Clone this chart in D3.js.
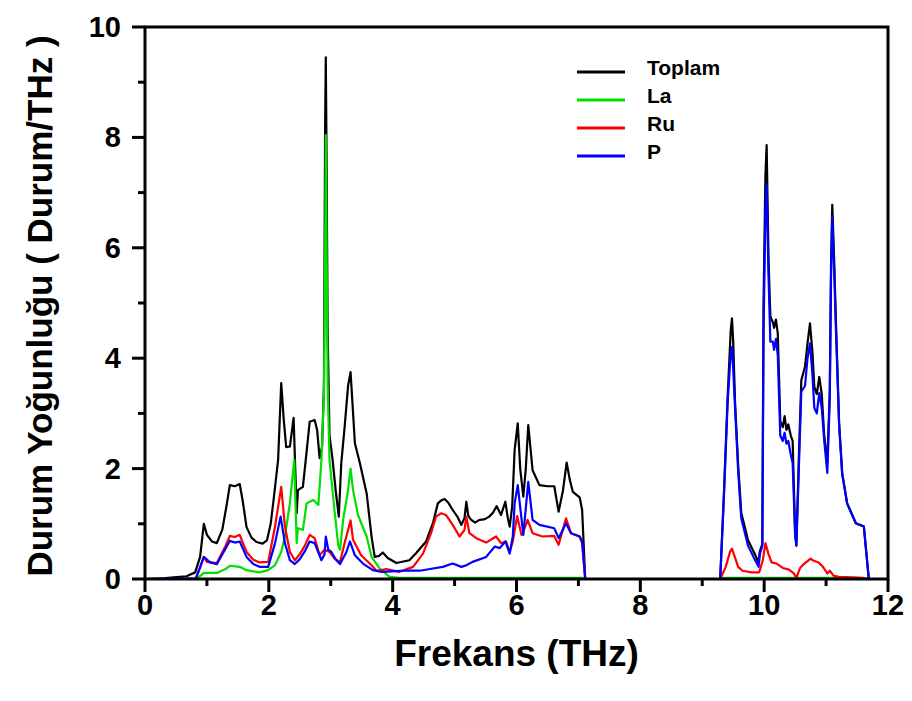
<!DOCTYPE html>
<html>
<head>
<meta charset="utf-8">
<script src="https://cdn.jsdelivr.net/npm/d3@7"></script>
<style>
  body { margin: 0; background: #fff; }
  svg { display: block; font-family: "Liberation Sans", Arial, sans-serif; }
</style>
</head>
<body>
<svg id="chart" width="912" height="701"></svg>
<script>
// frequency (THz), density of states (states/THz)
const toplam = [
  [0, 0], [0.3, 0.01], [0.46, 0.03], [0.67, 0.05], [0.81, 0.12], [0.89, 0.4], [0.95, 1.0], [1.0, 0.8],
  [1.08, 0.68], [1.16, 0.65], [1.25, 0.9], [1.32, 1.35], [1.37, 1.7], [1.45, 1.68], [1.53, 1.72],
  [1.58, 1.4], [1.64, 0.94], [1.72, 0.75], [1.8, 0.67], [1.9, 0.64], [1.97, 0.7], [2.03, 1.0],
  [2.07, 1.37], [2.15, 2.16], [2.2, 3.55], [2.24, 2.9], [2.28, 2.39], [2.34, 2.4], [2.4, 2.92],
  [2.45, 1.19], [2.47, 1.61], [2.55, 1.67], [2.6, 2.2], [2.66, 2.85], [2.74, 2.88], [2.78, 2.7],
  [2.82, 2.19], [2.86, 2.4], [2.89, 3.5], [2.91, 8.3], [2.92, 9.45], [2.93, 8.0], [2.95, 4.5],
  [2.98, 2.6], [3.03, 2.16], [3.08, 1.6], [3.13, 1.13], [3.17, 2.1], [3.22, 2.7], [3.28, 3.5],
  [3.32, 3.75], [3.35, 3.2], [3.39, 2.46], [3.47, 2.1], [3.58, 1.55], [3.66, 0.76], [3.71, 0.4],
  [3.78, 0.42], [3.84, 0.48], [3.92, 0.38], [4.06, 0.29], [4.27, 0.34], [4.38, 0.47], [4.54, 0.68],
  [4.65, 1.01], [4.73, 1.37], [4.78, 1.42], [4.84, 1.45], [4.9, 1.38], [4.97, 1.25], [5.05, 1.12],
  [5.11, 0.98], [5.16, 1.1], [5.19, 1.4], [5.22, 1.15], [5.26, 1.08], [5.33, 1.02], [5.4, 1.07],
  [5.48, 1.08], [5.56, 1.13], [5.62, 1.2], [5.68, 1.32], [5.75, 1.16], [5.82, 1.4], [5.86, 1.1],
  [5.89, 0.95], [5.93, 1.31], [5.97, 2.34], [6.02, 2.82], [6.06, 2.0], [6.11, 1.49], [6.15, 2.0],
  [6.19, 2.79], [6.26, 1.97], [6.37, 1.7], [6.5, 1.68], [6.61, 1.68], [6.68, 1.22], [6.75, 1.6],
  [6.81, 2.11], [6.86, 1.8], [6.91, 1.58], [7.02, 1.48], [7.06, 1.25], [7.11, 0], [9.29, 0],
  [9.35, 1.55], [9.41, 3.3], [9.46, 4.5], [9.48, 4.72], [9.5, 4.3], [9.53, 3.2], [9.58, 2.07],
  [9.63, 1.2], [9.74, 0.7], [9.85, 0.45], [9.91, 0.3], [9.93, 0.5], [9.97, 0.63], [9.99, 5.0],
  [10.02, 7.3], [10.04, 7.86], [10.07, 5.8], [10.1, 4.76], [10.14, 4.65], [10.16, 4.55], [10.19, 4.7],
  [10.22, 4.45], [10.26, 2.86], [10.3, 2.75], [10.33, 2.95], [10.36, 2.7], [10.39, 2.8], [10.43, 2.6],
  [10.46, 2.5], [10.5, 0.85], [10.52, 0.62], [10.56, 2.2], [10.6, 3.6], [10.66, 3.85], [10.7, 4.27],
  [10.74, 4.63], [10.78, 4.1], [10.81, 3.48], [10.85, 3.35], [10.89, 3.66], [10.93, 3.35], [10.97, 2.6],
  [11.02, 2.1], [11.06, 3.42], [11.08, 5.7], [11.1, 6.78], [11.13, 5.8], [11.16, 4.63], [11.21, 2.83],
  [11.26, 1.92], [11.34, 1.37], [11.48, 1.01], [11.61, 0.95], [11.69, 0], [12, 0]
];

const la = [
  [0, 0], [0.82, 0], [0.9, 0.06], [0.95, 0.11], [1.05, 0.11], [1.16, 0.11], [1.3, 0.18], [1.37, 0.24],
  [1.53, 0.22], [1.64, 0.16], [1.85, 0.12], [1.99, 0.16], [2.1, 0.25], [2.2, 0.49], [2.26, 0.77],
  [2.34, 1.37], [2.41, 2.16], [2.45, 0.65], [2.47, 0.92], [2.55, 0.89], [2.61, 1.37], [2.72, 1.43],
  [2.8, 1.34], [2.85, 2.16], [2.89, 3.37], [2.91, 6.0], [2.92, 8.04], [2.93, 6.5], [2.95, 3.5],
  [2.98, 2.16], [3.06, 1.25], [3.12, 0.62], [3.15, 0.53], [3.2, 1.07], [3.28, 1.61], [3.32, 2.0],
  [3.36, 1.61], [3.44, 1.16], [3.58, 0.77], [3.66, 0.4], [3.79, 0.19], [3.95, 0.04], [4.1, 0.02],
  [7.08, 0.02], [7.11, 0], [9.29, 0], [9.32, 0.02], [11.5, 0.02], [11.6, 0], [12, 0]
];

const ru = [
  [0, 0], [0.82, 0], [0.89, 0.2], [0.95, 0.4], [1.0, 0.31], [1.16, 0.29], [1.3, 0.6], [1.37, 0.78],
  [1.45, 0.76], [1.53, 0.8], [1.64, 0.49], [1.75, 0.35], [1.85, 0.3], [1.99, 0.31], [2.1, 0.95],
  [2.2, 1.67], [2.26, 0.95], [2.34, 0.49], [2.42, 0.34], [2.5, 0.45], [2.58, 0.6], [2.66, 0.8],
  [2.74, 0.74], [2.82, 0.43], [2.9, 0.53], [2.98, 0.49], [3.06, 0.37], [3.15, 0.31], [3.23, 0.68],
  [3.32, 1.06], [3.36, 0.71], [3.49, 0.43], [3.63, 0.28], [3.74, 0.15], [3.9, 0.18], [4.11, 0.13],
  [4.33, 0.22], [4.49, 0.46], [4.62, 0.83], [4.7, 1.13], [4.78, 1.19], [4.86, 1.16], [4.97, 0.98],
  [5.08, 0.77], [5.16, 0.89], [5.19, 1.13], [5.24, 0.83], [5.35, 0.74], [5.51, 0.66], [5.67, 0.77],
  [5.75, 0.65], [5.83, 0.68], [5.89, 0.49], [5.94, 0.68], [6.01, 1.14], [6.08, 0.8], [6.11, 0.86],
  [6.18, 1.07], [6.26, 0.83], [6.42, 0.77], [6.61, 0.78], [6.68, 0.62], [6.8, 1.1], [6.88, 0.83],
  [7.02, 0.77], [7.06, 0.65], [7.11, 0], [9.29, 0], [9.38, 0.22], [9.45, 0.5], [9.48, 0.55],
  [9.52, 0.42], [9.58, 0.22], [9.65, 0.15], [9.8, 0.12], [9.92, 0.12], [9.98, 0.35], [10.02, 0.65],
  [10.07, 0.45], [10.12, 0.3], [10.2, 0.28], [10.3, 0.2], [10.4, 0.17], [10.48, 0.1], [10.52, 0.02],
  [10.58, 0.2], [10.65, 0.28], [10.75, 0.37], [10.8, 0.33], [10.88, 0.3], [10.95, 0.22], [11.02, 0.1],
  [11.06, 0.15], [11.12, 0.06], [11.2, 0.04], [11.4, 0.03], [11.6, 0.02], [11.69, 0], [12, 0]
];

const p = [
  [0, 0], [0.82, 0.01], [0.89, 0.22], [0.95, 0.4], [1.05, 0.3], [1.16, 0.27], [1.3, 0.55], [1.37, 0.69],
  [1.45, 0.66], [1.53, 0.68], [1.64, 0.4], [1.75, 0.27], [1.85, 0.22], [1.99, 0.22], [2.1, 0.65],
  [2.19, 1.13], [2.26, 0.65], [2.34, 0.34], [2.42, 0.27], [2.5, 0.36], [2.58, 0.5], [2.66, 0.68],
  [2.74, 0.65], [2.85, 0.34], [2.9, 0.45], [2.92, 0.77], [2.96, 0.53], [3.01, 0.49], [3.09, 0.34],
  [3.15, 0.27], [3.25, 0.48], [3.31, 0.68], [3.39, 0.43], [3.52, 0.28], [3.68, 0.16], [3.82, 0.13],
  [4.22, 0.15], [4.44, 0.15], [4.65, 0.19], [4.81, 0.22], [4.97, 0.28], [5.11, 0.22], [5.19, 0.25],
  [5.29, 0.31], [5.51, 0.4], [5.65, 0.59], [5.73, 0.56], [5.82, 0.68], [5.89, 0.46], [5.94, 0.77],
  [5.97, 1.37], [6.02, 1.7], [6.11, 0.8], [6.19, 1.76], [6.26, 1.07], [6.37, 0.98], [6.61, 0.92],
  [6.68, 0.74], [6.8, 1.01], [6.88, 0.83], [7.02, 0.77], [7.06, 0.68], [7.11, 0], [9.29, 0],
  [9.35, 1.5], [9.41, 3.2], [9.46, 4.1], [9.48, 4.2], [9.5, 3.8], [9.53, 3.1], [9.58, 1.95],
  [9.63, 1.1], [9.74, 0.6], [9.85, 0.35], [9.91, 0.22], [9.93, 0.45], [9.97, 0.6], [9.99, 4.5],
  [10.02, 6.6], [10.04, 7.15], [10.07, 5.5], [10.1, 4.3], [10.14, 4.3], [10.16, 4.15], [10.19, 4.35],
  [10.22, 4.05], [10.26, 2.6], [10.3, 2.5], [10.33, 2.65], [10.36, 2.45], [10.39, 2.5], [10.43, 2.25],
  [10.46, 2.1], [10.5, 0.8], [10.52, 0.6], [10.56, 2.0], [10.6, 3.4], [10.66, 3.5], [10.7, 4.0],
  [10.74, 4.27], [10.78, 3.7], [10.81, 3.1], [10.85, 3.0], [10.89, 3.37], [10.93, 3.1], [10.97, 2.5],
  [11.02, 1.92], [11.06, 3.3], [11.08, 5.5], [11.1, 6.56], [11.13, 5.6], [11.16, 4.5], [11.21, 2.8],
  [11.26, 1.9], [11.34, 1.37], [11.48, 1.01], [11.61, 0.95], [11.69, 0], [12, 0]
];

const seriesNames = ['Toplam', 'La', 'Ru', 'P'];
const seriesColors = ['#000000', '#00e000', '#ff0000', '#0000ff'];
const xTicks = [0, 2, 4, 6, 8, 10, 12];
const yTicks = [0, 2, 4, 6, 8, 10];

const svg = d3.select('#chart');
const plotLeft = 145;
const plotRight = 888;
const plotTop = 27;
const plotBottom = 579;

const x = d3.scaleLinear().domain([0, 12]).range([plotLeft, plotRight]);
const y = d3.scaleLinear().domain([0, 10]).range([plotBottom, plotTop]);

const line = d3.line()
    .x((d) => x(d[0]))
    .y((d) => y(d[1]));

// data lines, blue drawn last (on top)
[toplam, la, ru, p].forEach((data, i) => {
    svg.append('path')
        .datum(data)
        .attr('d', line)
        .attr('fill', 'none')
        .attr('stroke', seriesColors[i])
        .attr('stroke-width', 2.2)
        .attr('stroke-linejoin', 'round');
});

// frame
svg.append('rect')
    .attr('x', plotLeft)
    .attr('y', plotTop)
    .attr('width', plotRight - plotLeft)
    .attr('height', plotBottom - plotTop)
    .attr('fill', 'none')
    .attr('stroke', 'black')
    .attr('stroke-width', 3);

// minor ticks
const xMinor = d3.range(1, 12, 2);
const yMinor = d3.range(1, 10, 2);

const xAxis = svg.append('g').attr('transform', `translate(0,${plotBottom})`);
xAxis.selectAll('.major')
    .data(xTicks)
    .enter()
    .append('line')
    .attr('x1', (d) => x(d))
    .attr('x2', (d) => x(d))
    .attr('y1', 0)
    .attr('y2', 13)
    .attr('stroke', 'black')
    .attr('stroke-width', 3);
xAxis.selectAll('.minor')
    .data(xMinor)
    .enter()
    .append('line')
    .attr('x1', (d) => x(d))
    .attr('x2', (d) => x(d))
    .attr('y1', 0)
    .attr('y2', 7)
    .attr('stroke', 'black')
    .attr('stroke-width', 3);
xAxis.selectAll('text')
    .data(xTicks)
    .enter()
    .append('text')
    .attr('x', (d) => x(d))
    .attr('y', 36)
    .attr('text-anchor', 'middle')
    .attr('font-size', 29)
    .attr('font-weight', 'bold')
    .text((d) => d);

const yAxis = svg.append('g').attr('transform', `translate(${plotLeft},0)`);
yAxis.selectAll('.major')
    .data(yTicks)
    .enter()
    .append('line')
    .attr('x1', 0)
    .attr('x2', -13)
    .attr('y1', (d) => y(d))
    .attr('y2', (d) => y(d))
    .attr('stroke', 'black')
    .attr('stroke-width', 3);
yAxis.selectAll('.minor')
    .data(yMinor)
    .enter()
    .append('line')
    .attr('x1', 0)
    .attr('x2', -7)
    .attr('y1', (d) => y(d))
    .attr('y2', (d) => y(d))
    .attr('stroke', 'black')
    .attr('stroke-width', 3);
yAxis.selectAll('text')
    .data(yTicks)
    .enter()
    .append('text')
    .attr('x', -24)
    .attr('y', (d) => y(d) + 10)
    .attr('text-anchor', 'end')
    .attr('font-size', 29)
    .attr('font-weight', 'bold')
    .text((d) => d);

// axis titles
svg.append('text')
    .attr('x', (plotLeft + plotRight) / 2)
    .attr('y', 666)
    .attr('text-anchor', 'middle')
    .attr('font-size', 37)
    .attr('font-weight', 'bold')
    .text('Frekans (THz)');

svg.append('text')
    .attr('transform', `translate(52,${(plotTop + plotBottom) / 2 + 3}) rotate(-90)`)
    .attr('text-anchor', 'middle')
    .attr('font-size', 35)
    .attr('font-weight', 'bold')
    .text('Durum Yoğunluğu ( Durum/THz )');

// legend
const legend = svg.append('g').attr('transform', 'translate(577,72)');
seriesNames.forEach((name, i) => {
    const row = legend.append('g').attr('transform', `translate(0,${i * 28})`);
    row.append('line')
        .attr('x1', 0)
        .attr('x2', 48)
        .attr('y1', 0)
        .attr('y2', 0)
        .attr('stroke', seriesColors[i])
        .attr('stroke-width', 3);
    row.append('text')
        .attr('x', 70)
        .attr('y', 3)
        .attr('font-size', 21)
        .attr('font-weight', 'bold')
        .text(name);
});
</script>
</body>
</html>
